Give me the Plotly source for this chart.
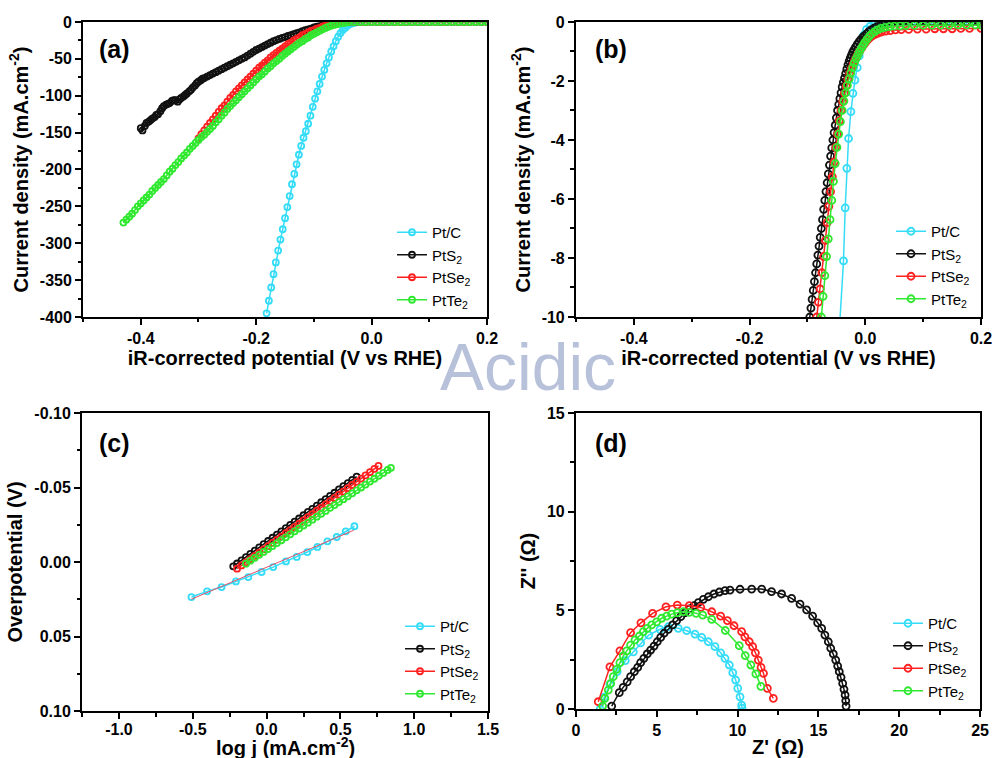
import plotly.graph_objects as go

# ---------------- data ----------------
NAMES = ["Pt/C", "PtS<sub>2</sub>", "PtSe<sub>2</sub>", "PtTe<sub>2</sub>"]
COLORS = ["#35dcf7", "#111111", "#ff2020", "#30e830"]

FLAT_X = [-0.04, -0.03, -0.02, -0.01, 0.00, 0.01, 0.02, 0.03, 0.04, 0.05, 0.06, 0.07, 0.08,
          0.09, 0.10, 0.11, 0.12, 0.13, 0.14, 0.15, 0.16, 0.17, 0.18, 0.19, 0.20]
FLAT_Y = [0, 0, 0, 0, 0, 0, 0, 0, 0, 0, 0, 0, 0, 0, 0, 0, 0, 0, 0, 0, 0, 0, 0, 0, 0]

# (a) LSV, wide range : (potential V, current mA/cm2)
a_ptc = [(-0.182, -395), (-0.178, -378), (-0.174, -360), (-0.170, -342), (-0.166, -326),
         (-0.162, -310), (-0.158, -295), (-0.154, -281), (-0.150, -266), (-0.146, -251),
         (-0.142, -236), (-0.138, -220), (-0.134, -206), (-0.130, -193), (-0.126, -180),
         (-0.122, -168), (-0.118, -157), (-0.114, -148), (-0.110, -138), (-0.106, -127),
         (-0.102, -115), (-0.098, -104), (-0.094, -94), (-0.090, -84), (-0.086, -74),
         (-0.082, -65), (-0.078, -56), (-0.074, -48), (-0.070, -40), (-0.066, -33),
         (-0.062, -26), (-0.058, -20), (-0.054, -15), (-0.050, -11), (-0.046, -8),
         (-0.042, -5), (-0.038, -3), (-0.034, -2), (-0.030, -1), (-0.026, -0.5)]
a_pts = [(-0.400, -144), (-0.397, -147), (-0.393, -141), (-0.390, -137), (-0.386, -135),
         (-0.383, -133), (-0.380, -131), (-0.376, -129), (-0.373, -126), (-0.370, -125),
         (-0.366, -121), (-0.363, -117), (-0.360, -114), (-0.356, -112), (-0.353, -111),
         (-0.350, -110), (-0.346, -107), (-0.343, -106), (-0.340, -106), (-0.336, -108),
         (-0.333, -105), (-0.330, -103), (-0.326, -101), (-0.323, -99), (-0.320, -97),
         (-0.316, -94), (-0.313, -92), (-0.310, -89), (-0.306, -86), (-0.303, -83),
         (-0.300, -81), (-0.296, -79), (-0.293, -77), (-0.290, -76), (-0.285, -74),
         (-0.280, -72), (-0.275, -70), (-0.270, -68), (-0.265, -66), (-0.260, -64),
         (-0.255, -62), (-0.250, -60), (-0.245, -58), (-0.240, -56), (-0.235, -54),
         (-0.230, -52), (-0.225, -50), (-0.220, -48), (-0.215, -45.5), (-0.210, -43),
         (-0.205, -40.5), (-0.200, -38), (-0.195, -36), (-0.190, -34), (-0.185, -32),
         (-0.180, -30), (-0.175, -28), (-0.170, -26), (-0.165, -24.5), (-0.160, -23),
         (-0.155, -21.5), (-0.150, -20.5), (-0.145, -19), (-0.140, -18), (-0.135, -16.5),
         (-0.130, -15), (-0.125, -14), (-0.120, -12.5), (-0.115, -11), (-0.110, -10),
         (-0.105, -9), (-0.100, -7.5), (-0.095, -6.5), (-0.090, -5.5), (-0.085, -4.5),
         (-0.080, -3.5), (-0.075, -2.7), (-0.070, -2), (-0.065, -1.3), (-0.060, -0.8),
         (-0.055, -0.4), (-0.050, -0.2), (-0.045, 0)]
a_ptse = [(-0.300, -158), (-0.295, -152), (-0.290, -147), (-0.285, -142), (-0.280, -137),
          (-0.275, -132), (-0.270, -127), (-0.265, -122), (-0.260, -117), (-0.255, -113),
          (-0.250, -108), (-0.245, -103), (-0.240, -99), (-0.235, -94), (-0.230, -90),
          (-0.225, -86), (-0.220, -82), (-0.215, -78), (-0.210, -74), (-0.205, -70),
          (-0.200, -66), (-0.195, -62), (-0.190, -59), (-0.185, -55), (-0.180, -52),
          (-0.175, -48), (-0.170, -45), (-0.165, -42), (-0.160, -39), (-0.155, -36),
          (-0.150, -33), (-0.145, -30), (-0.140, -28), (-0.135, -25), (-0.130, -23),
          (-0.125, -21), (-0.120, -18), (-0.115, -16), (-0.110, -14), (-0.105, -12),
          (-0.100, -11), (-0.095, -9), (-0.090, -8), (-0.085, -6), (-0.080, -5),
          (-0.075, -4), (-0.070, -3), (-0.065, -2), (-0.060, -1.5), (-0.055, -1),
          (-0.050, -0.5), (-0.045, 0)]
a_ptte = [(-0.430, -272), (-0.425, -268), (-0.420, -264), (-0.415, -260), (-0.410, -255),
          (-0.405, -250), (-0.400, -246), (-0.395, -242), (-0.390, -238), (-0.385, -234),
          (-0.380, -229), (-0.375, -225), (-0.370, -221), (-0.365, -217), (-0.360, -213),
          (-0.355, -208), (-0.350, -203), (-0.345, -199), (-0.340, -194), (-0.335, -190),
          (-0.330, -185), (-0.325, -181), (-0.320, -177), (-0.315, -172), (-0.310, -168),
          (-0.305, -164), (-0.300, -160), (-0.295, -156), (-0.290, -153), (-0.285, -149),
          (-0.280, -145), (-0.275, -141), (-0.270, -136), (-0.265, -132), (-0.260, -127),
          (-0.255, -123), (-0.250, -118), (-0.245, -114), (-0.240, -110), (-0.235, -106),
          (-0.230, -102), (-0.225, -98), (-0.220, -94), (-0.215, -90), (-0.210, -86),
          (-0.205, -82), (-0.200, -78), (-0.195, -74), (-0.190, -71), (-0.185, -67),
          (-0.180, -63), (-0.175, -60), (-0.170, -56), (-0.165, -53), (-0.160, -50),
          (-0.155, -46), (-0.150, -43), (-0.145, -40), (-0.140, -37), (-0.135, -34),
          (-0.130, -31), (-0.125, -28), (-0.120, -26), (-0.115, -23), (-0.110, -21),
          (-0.105, -18), (-0.100, -16), (-0.095, -14), (-0.090, -12), (-0.085, -10),
          (-0.080, -8), (-0.075, -6.5), (-0.070, -5), (-0.065, -4), (-0.060, -3),
          (-0.055, -2), (-0.050, -1.5), (-0.045, -1)]

# (b) LSV, onset region
b_ptc = [(-0.0445, -10.3), (-0.0377, -8.1), (-0.0348, -6.3), (-0.032, -4.96), (-0.029, -3.95),
         (-0.025, -3.04), (-0.0215, -2.42), (-0.018, -1.97), (-0.014, -1.55), (-0.0105, -1.15),
         (-0.007, -0.8), (-0.003, -0.45), (0.002, -0.25), (0.008, -0.15), (0.015, -0.1),
         (0.022, -0.07), (0.030, -0.05), (0.040, -0.03), (0.050, -0.02), (0.060, -0.01),
         (0.080, 0), (0.100, 0), (0.120, 0), (0.140, 0), (0.160, 0), (0.180, 0), (0.200, 0)]
b_pts = [(-0.096, -10.0), (-0.094, -9.7), (-0.092, -9.4), (-0.090, -9.1), (-0.088, -8.8),
         (-0.086, -8.5), (-0.084, -8.2), (-0.082, -7.9), (-0.080, -7.6), (-0.078, -7.3),
         (-0.076, -7.0), (-0.074, -6.7), (-0.072, -6.35), (-0.070, -6.05), (-0.068, -5.75),
         (-0.066, -5.45), (-0.064, -5.15), (-0.062, -4.85), (-0.060, -4.55), (-0.058, -4.27),
         (-0.056, -4.0), (-0.054, -3.75), (-0.052, -3.5), (-0.050, -3.25), (-0.048, -3.0),
         (-0.046, -2.8), (-0.044, -2.6), (-0.042, -2.4), (-0.040, -2.2), (-0.038, -2.05),
         (-0.036, -1.9), (-0.034, -1.75), (-0.032, -1.6), (-0.030, -1.45), (-0.028, -1.33),
         (-0.026, -1.22), (-0.024, -1.12), (-0.022, -1.03), (-0.020, -0.95), (-0.017, -0.85),
         (-0.014, -0.76), (-0.011, -0.67), (-0.008, -0.6), (-0.005, -0.53), (-0.002, -0.47),
         (0.002, -0.4), (0.006, -0.33), (0.010, -0.27), (0.015, -0.21), (0.020, -0.16),
         (0.026, -0.12), (0.033, -0.09), (0.040, -0.06), (0.048, -0.04), (0.056, -0.025),
         (0.065, -0.015), (0.075, -0.008), (0.085, -0.003), (0.095, 0), (0.105, 0),
         (0.115, 0), (0.125, 0), (0.135, 0), (0.145, 0), (0.155, 0), (0.165, 0),
         (0.175, 0), (0.185, 0), (0.195, 0), (0.200, 0)]
b_ptse = [(-0.084, -10.0), (-0.081, -9.5), (-0.078, -9.05), (-0.075, -8.5), (-0.072, -7.95),
          (-0.069, -7.4), (-0.066, -6.8), (-0.063, -6.25), (-0.060, -5.75), (-0.057, -5.25),
          (-0.054, -4.75), (-0.051, -4.25), (-0.048, -3.8), (-0.045, -3.35), (-0.042, -3.0),
          (-0.039, -2.7), (-0.036, -2.42), (-0.033, -2.17), (-0.030, -1.95), (-0.027, -1.75),
          (-0.024, -1.58), (-0.021, -1.44), (-0.018, -1.3), (-0.015, -1.18), (-0.012, -1.06),
          (-0.009, -0.96), (-0.006, -0.87), (-0.003, -0.78), (0.000, -0.7), (0.004, -0.61),
          (0.008, -0.53), (0.012, -0.47), (0.017, -0.42), (0.022, -0.38), (0.028, -0.34),
          (0.035, -0.31), (0.043, -0.29), (0.052, -0.27), (0.062, -0.26), (0.075, -0.25),
          (0.090, -0.24), (0.105, -0.24), (0.120, -0.23), (0.135, -0.23), (0.150, -0.23),
          (0.165, -0.22), (0.180, -0.22), (0.200, -0.22)]
b_ptte = [(-0.076, -10.0), (-0.073, -9.3), (-0.070, -8.6), (-0.067, -7.95), (-0.064, -7.35),
          (-0.061, -6.7), (-0.058, -6.05), (-0.055, -5.4), (-0.052, -4.8), (-0.049, -4.25),
          (-0.046, -3.8), (-0.043, -3.38), (-0.040, -3.0), (-0.037, -2.68), (-0.034, -2.4),
          (-0.031, -2.15), (-0.028, -1.93), (-0.025, -1.73), (-0.022, -1.55), (-0.019, -1.39),
          (-0.016, -1.25), (-0.013, -1.12), (-0.010, -1.0), (-0.007, -0.89), (-0.004, -0.79),
          (-0.001, -0.69), (0.003, -0.58), (0.007, -0.48), (0.011, -0.4), (0.016, -0.33),
          (0.021, -0.27), (0.027, -0.22), (0.034, -0.18), (0.042, -0.16), (0.050, -0.14),
          (0.060, -0.13), (0.070, -0.12), (0.085, -0.115), (0.100, -0.11), (0.115, -0.11),
          (0.130, -0.105), (0.145, -0.105), (0.160, -0.1), (0.175, -0.1), (0.190, -0.1),
          (0.200, -0.1)]

# (c) Tafel : (log j, overpotential V)
c_ptc = [(-0.509, 0.0235), (-0.403, 0.0197), (-0.305, 0.0168), (-0.208, 0.013), (-0.124, 0.0101),
         (-0.034, 0.0067), (0.045, 0.0034), (0.131, -0.0004), (0.204, -0.0034), (0.276, -0.0067),
         (0.344, -0.0101), (0.412, -0.0139), (0.475, -0.0168), (0.536, -0.0206), (0.595, -0.024)]
c_ptc_fit = [(-0.51, 0.025), (0.59, -0.0213)]
c_pts = [(-0.226, 0.0029), (-0.20, 0.0010), (-0.17, -0.0011), (-0.14, -0.0033), (-0.11, -0.0055),
         (-0.08, -0.0076), (-0.05, -0.0098), (-0.02, -0.0120), (0.01, -0.0141), (0.04, -0.0163),
         (0.07, -0.0184), (0.10, -0.0206), (0.13, -0.0228), (0.16, -0.0249), (0.19, -0.0271),
         (0.22, -0.0292), (0.25, -0.0314), (0.28, -0.0336), (0.31, -0.0357), (0.34, -0.0379),
         (0.37, -0.0401), (0.40, -0.0422), (0.43, -0.0444), (0.46, -0.0465), (0.49, -0.0487),
         (0.52, -0.0509), (0.55, -0.0530), (0.58, -0.0552), (0.61, -0.0573)]
c_ptse = [(-0.20, 0.0045), (-0.17, 0.0023), (-0.14, 0.0002), (-0.11, -0.0020), (-0.08, -0.0041),
          (-0.05, -0.0063), (-0.02, -0.0085), (0.01, -0.0106), (0.04, -0.0128), (0.07, -0.0149),
          (0.10, -0.0171), (0.13, -0.0193), (0.16, -0.0214), (0.19, -0.0236), (0.22, -0.0257),
          (0.25, -0.0279), (0.28, -0.0301), (0.31, -0.0322), (0.34, -0.0344), (0.37, -0.0365),
          (0.40, -0.0387), (0.43, -0.0409), (0.46, -0.0430), (0.49, -0.0452), (0.52, -0.0473),
          (0.55, -0.0495), (0.58, -0.0517), (0.61, -0.0538), (0.64, -0.0560), (0.67, -0.0581),
          (0.70, -0.0603), (0.73, -0.0625), (0.758, -0.0645)]
c_ptte = [(-0.14, 0.0011), (-0.11, -0.0009), (-0.08, -0.0028), (-0.05, -0.0048), (-0.02, -0.0068),
          (0.01, -0.0087), (0.04, -0.0107), (0.07, -0.0127), (0.10, -0.0146), (0.13, -0.0166),
          (0.16, -0.0186), (0.19, -0.0206), (0.22, -0.0225), (0.25, -0.0245), (0.28, -0.0264),
          (0.31, -0.0284), (0.34, -0.0304), (0.37, -0.0324), (0.40, -0.0343), (0.43, -0.0363),
          (0.46, -0.0382), (0.49, -0.0402), (0.52, -0.0422), (0.55, -0.0441), (0.58, -0.0461),
          (0.61, -0.0481), (0.64, -0.0500), (0.67, -0.0520), (0.70, -0.0540), (0.73, -0.0559),
          (0.76, -0.0579), (0.79, -0.0598), (0.82, -0.0618), (0.842, -0.0632)]

# (d) Nyquist : (Z', Z'')
d_ptc = [(1.5, 0.0), (1.75, 0.6), (2.1, 1.25), (2.55, 1.9), (3.05, 2.45), (3.55, 2.9),
         (4.0, 3.35), (4.5, 3.75), (5.2, 4.04), (5.71, 4.17), (6.33, 4.09),
         (6.85, 3.97), (7.36, 3.8), (7.78, 3.63), (8.19, 3.41), (8.6, 3.16), (8.95, 2.85),
         (9.22, 2.57), (9.49, 2.23), (9.7, 1.84), (9.88, 1.47), (10.01, 1.05), (10.15, 0.62),
         (10.25, 0.2), (10.27, 0.05)]
d_pts = [(2.21, 0.15), (2.68, 0.83), (2.92, 1.1), (3.17, 1.38), (3.38, 1.64), (3.61, 1.89),
         (3.82, 2.11), (4.0, 2.35), (4.2, 2.57), (4.41, 2.79), (4.62, 2.99), (4.83, 3.19),
         (5.03, 3.41), (5.24, 3.63), (5.45, 3.84), (5.71, 4.04), (5.98, 4.26), (6.23, 4.48),
         (6.48, 4.68), (6.75, 4.88), (7.01, 5.07), (7.3, 5.24), (7.57, 5.39), (7.88, 5.56),
         (8.19, 5.69), (8.54, 5.83), (8.87, 5.93), (9.22, 6.0), (9.53, 6.03), (10.15, 6.07),
         (10.87, 6.08), (11.49, 6.08), (12.1, 5.95), (12.72, 5.83), (13.34, 5.61), (13.86, 5.32),
         (14.27, 5.02), (14.64, 4.71), (14.95, 4.37), (15.2, 4.09), (15.4, 3.75), (15.61, 3.41),
         (15.76, 3.08), (15.92, 2.79), (16.07, 2.48), (16.19, 2.18), (16.29, 1.89), (16.4, 1.61),
         (16.5, 1.3), (16.58, 1.0), (16.65, 0.71), (16.69, 0.42), (16.71, 0.15)]
d_ptse = [(1.38, 0.37), (2.1, 2.14), (2.72, 2.95), (3.38, 3.87), (4.02, 4.37), (4.74, 4.85),
          (5.57, 5.18), (6.27, 5.27), (7.01, 5.24), (7.72, 5.15), (8.4, 4.93), (8.95, 4.71),
          (9.37, 4.48), (9.78, 4.22), (10.25, 3.92), (10.45, 3.66), (10.72, 3.41), (10.93, 3.16),
          (11.1, 2.85), (11.28, 2.48), (11.45, 2.11), (11.6, 1.81), (11.84, 1.05), (12.21, 0.54)]
d_ptte = [(1.65, 0.15), (1.79, 0.54), (2.0, 0.96), (2.15, 1.3), (2.31, 1.64), (2.52, 2.01),
          (2.72, 2.35), (2.93, 2.69), (3.14, 2.95), (3.38, 3.24), (3.65, 3.5), (3.92, 3.7),
          (4.17, 3.92), (4.41, 4.09), (4.68, 4.26), (4.99, 4.42), (5.3, 4.6), (5.61, 4.71),
          (5.92, 4.81), (6.27, 4.88), (6.64, 4.93), (7.01, 4.9), (7.43, 4.85), (7.84, 4.76),
          (8.4, 4.54), (9.24, 3.98), (10.1, 3.21), (10.47, 2.71), (10.82, 2.23), (11.13, 1.78),
          (11.44, 1.15)]

# tick labels
a_xtick_vals = [-0.4, -0.2, 0.0, 0.2]
a_xtick_text = ["-0.4", "-0.2", "0.0", "0.2"]
a_ytick_vals = [0, -50, -100, -150, -200, -250, -300, -350, -400]
a_ytick_text = ["0", "-50", "-100", "-150", "-200", "-250", "-300", "-350", "-400"]
b_ytick_vals = [0, -2, -4, -6, -8, -10]
b_ytick_text = ["0", "-2", "-4", "-6", "-8", "-10"]
c_xtick_vals = [-1.0, -0.5, 0.0, 0.5, 1.0, 1.5]
c_xtick_text = ["-1.0", "-0.5", "0.0", "0.5", "1.0", "1.5"]
c_ytick_vals = [-0.10, -0.05, 0.00, 0.05, 0.10]
c_ytick_text = ["-0.10", "-0.05", "0.00", "0.05", "0.10"]
d_xtick_vals = [0, 5, 10, 15, 20, 25]
d_xtick_text = ["0", "5", "10", "15", "20", "25"]
d_ytick_vals = [0, 5, 10, 15]
d_ytick_text = ["0", "5", "10", "15"]

# ---------------- figure ----------------
FONT = "Liberation Sans, Arial, sans-serif"
fig = go.Figure()


def add_series(data, name, color, xa, ya, lg, msize, lw=1.5):
    fig.add_trace(go.Scatter(
        x=[p[0] for p in data], y=[p[1] for p in data], mode="lines+markers", name=name,
        xaxis=xa, yaxis=ya, legend=lg,
        line=dict(color=color, width=lw),
        marker=dict(symbol="circle-open", size=msize, color=color, line=dict(width=1.8))))


def with_flat(series):
    last = series[-1][0]
    return series + [(x, y) for x, y in zip(FLAT_X, FLAT_Y) if x > last]


for data, name, color in zip([a_ptc, a_pts, a_ptse, a_ptte], NAMES, COLORS):
    add_series(with_flat(data), name, color, "x", "y", "legend", 6)
for data, name, color in zip([b_ptc, b_pts, b_ptse, b_ptte], NAMES, COLORS):
    add_series(data, name, color, "x2", "y2", "legend2", 7)
for data, name, color in zip([c_ptc, c_pts, c_ptse, c_ptte], NAMES, COLORS):
    add_series(data, name, color, "x3", "y3", "legend3", 6)
fig.add_trace(go.Scatter(x=[p[0] for p in c_ptc_fit], y=[p[1] for p in c_ptc_fit], mode="lines",
                         line=dict(color="#e8506a", width=1), xaxis="x3", yaxis="y3",
                         showlegend=False, hoverinfo="skip"))
for data, name, color in zip([d_ptc, d_pts, d_ptse, d_ptte], NAMES, COLORS):
    add_series(data, name, color, "x4", "y4", "legend4", 7)


def axis(domain, rng, tvals, ttext, minor_dtick, title, anchor, standoff, labstand=0):
    return dict(domain=domain, range=rng, tickmode="array", tickvals=tvals, ticktext=ttext,
                ticks="outside", ticklen=6, tickwidth=2, tickcolor="black",
                minor=dict(ticks="outside", ticklen=3.5, tickwidth=1.5, tickcolor="black",
                           tickmode="linear", dtick=minor_dtick, tick0=0),
                showline=True, linewidth=2, linecolor="black", mirror=True,
                showgrid=False, zeroline=False, anchor=anchor, automargin=False,
                ticklabeloverflow="allow", ticklabelstandoff=labstand,
                tickfont=dict(family=FONT, size=16, color="black", weight="bold"),
                title=dict(text=title, standoff=standoff,
                           font=dict(family=FONT, size=20, color="black", weight="bold")))


XA = [0.0837, 0.491]
XB = [0.5806, 0.989]
YT = [0.5818, 0.971]
XC = [0.0827, 0.492]
XD = [0.5806, 0.988]
YC = [0.062, 0.4551]
YD = [0.0646, 0.4551]
pot_title = "iR-corrected potential (V vs RHE)"
cd_title = "Current density (mA.cm<sup>-2</sup>)"

fig.update_layout(
    width=992, height=758, margin=dict(l=0, r=0, t=0, b=0, autoexpand=False),
    paper_bgcolor="white", plot_bgcolor="white", showlegend=True,
    xaxis=axis(XA, [-0.5, 0.2], a_xtick_vals, a_xtick_text, 0.1, pot_title, "y", 2),
    yaxis=axis(YT, [-400, 0], a_ytick_vals, a_ytick_text, 25, cd_title, "x", 6),
    xaxis2=axis(XB, [-0.5, 0.2], a_xtick_vals, a_xtick_text, 0.1, pot_title, "y2", 2),
    yaxis2=axis(YT, [-10, 0], b_ytick_vals, b_ytick_text, 1, cd_title, "x2", 6),
    xaxis3=axis(XC, [-1.25, 1.5], c_xtick_vals, c_xtick_text, 0.25, "", "y3", 2, -3),
    yaxis3=axis(YC, [0.10, -0.10], c_ytick_vals, c_ytick_text, 0.025, "Overpotential (V)", "x3", 6),
    xaxis4=axis(XD, [0, 25], d_xtick_vals, d_xtick_text, 2.5, "Z' (Ω)", "y4", 2),
    yaxis4=axis(YD, [0, 15], d_ytick_vals, d_ytick_text, 2.5, "Z'' (Ω)", "x4", 6),
)

leg_common = dict(xanchor="left", yanchor="top", bgcolor="rgba(0,0,0,0)", borderwidth=0,
                  font=dict(family=FONT, size=15, color="black"), itemwidth=30,
                  tracegroupgap=0)
fig.update_layout(
    legend=dict(x=392 / 992, y=1 - 216 / 758, **leg_common),
    legend2=dict(x=891 / 992, y=1 - 215 / 758, **leg_common),
    legend3=dict(x=400 / 992, y=1 - 610 / 758, **leg_common),
    legend4=dict(x=888 / 992, y=1 - 607 / 758, **leg_common),
)

labels = [("(a)", "x", "y", 0.035, 0.910), ("(b)", "x2", "y2", 0.042, 0.910),
          ("(c)", "x3", "y3", 0.037, 0.899), ("(d)", "x4", "y4", 0.042, 0.899)]
ann = []
for txt, xa, ya, xx, yy in labels:
    ann.append(dict(text=txt, xref=xa + " domain", yref=ya + " domain", x=xx, y=yy,
                    xanchor="left", yanchor="middle", showarrow=False,
                    font=dict(family=FONT, size=25, color="black", weight="bold")))
# x-axis title of panel (c), close to the bottom edge as in the original
ann.append(dict(text="log j (mA.cm<sup>-2</sup>)", xref="x3 domain", yref="paper",
                x=0.5, y=1 - 746 / 758, xanchor="center", yanchor="middle", showarrow=False,
                font=dict(family=FONT, size=20, color="black", weight="bold")))
ann.append(dict(text="Acidic", xref="paper", yref="paper", x=528 / 992, y=1 - 367 / 758,
                xanchor="center", yanchor="middle", showarrow=False,
                font=dict(family="Liberation Sans, Arial, sans-serif", size=66,
                          color="rgba(160,172,205,0.75)")))
fig.update_layout(annotations=ann)

fig.write_html("out.html")
